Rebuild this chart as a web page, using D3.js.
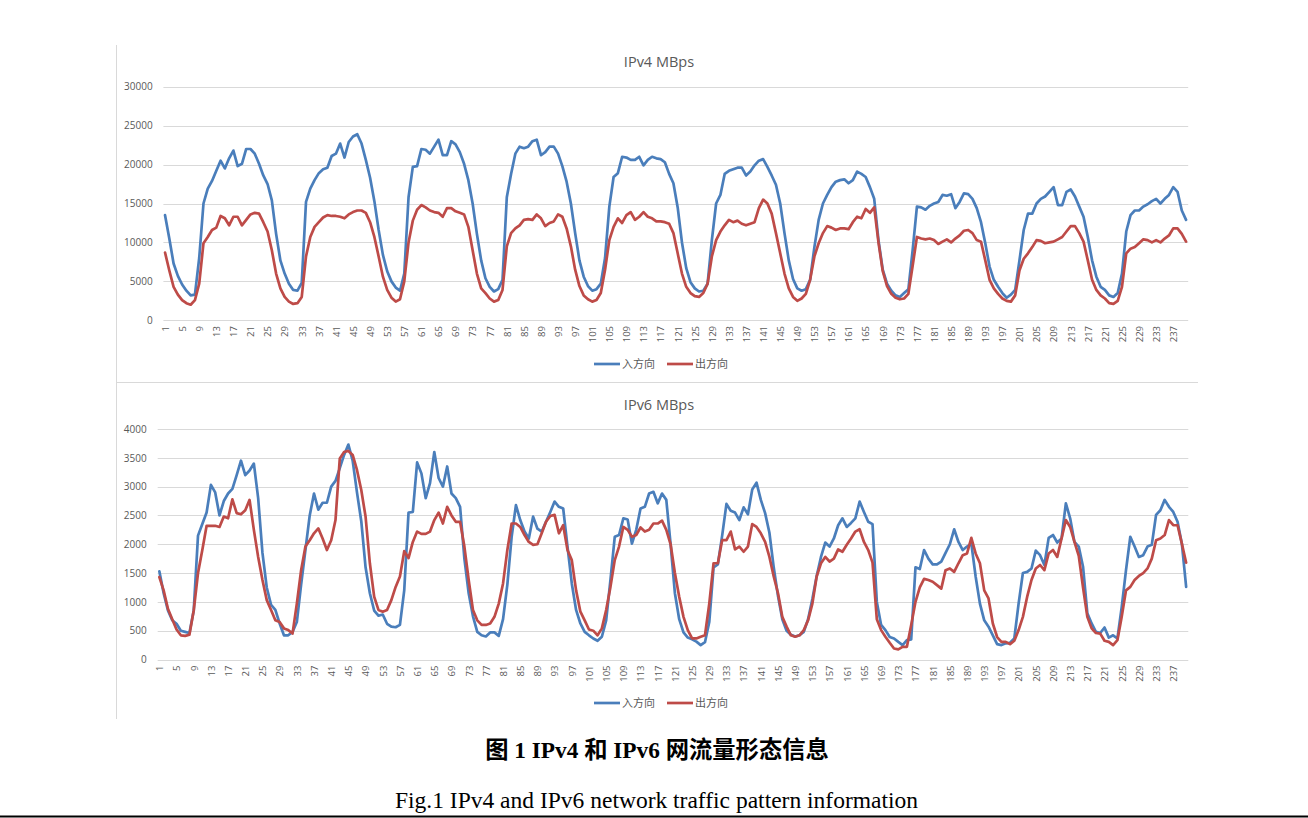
<!DOCTYPE html>
<html>
<head>
<meta charset="utf-8">
<script src="https://cdn.jsdelivr.net/npm/d3@7"></script>
<style>
  body { margin: 0; background: #ffffff; }
  svg { display: block; }
</style>
</head>
<body>
<svg id="chart" width="1308" height="818"></svg>
<script>
// ---------- data ----------
const hours = d3.range(1, 241); // categories 1..240 (hourly samples)
const xTickLabels = hours.filter(h => (h - 1) % 4 === 0);
const v4Ticks = [0, 5000, 10000, 15000, 20000, 25000, 30000];
const v6Ticks = [0, 500, 1000, 1500, 2000, 2500, 3000, 3500, 4000];
const seriesNames = ["入方向", "出方向"];

const v4In = [
  13500,10500,7300,5700,4600,3800,3200,3300,8000,15000,16900,17900,19200,20500,19500,20800,21800,19800,20100,22000,22000,21400,20100,18600,
  17500,15400,11100,7700,6000,4700,3900,3800,4800,15200,16900,18000,18900,19400,19600,21100,21400,22700,20900,22900,23600,23900,22700,20600,
  18300,15300,11600,8400,6300,5000,4200,3800,6000,15800,19700,19800,22000,21900,21400,22300,23200,21200,21200,23000,22600,21600,20100,18000,
  15000,11100,7700,5400,4300,3700,4000,5200,15800,18800,21400,22300,22100,22300,23000,23200,21200,21600,22300,22300,21400,19800,17800,15000,
  11200,7700,5600,4400,3800,4000,4700,8000,14600,18400,18900,21000,20900,20600,20600,21000,19900,20600,21000,20800,20700,20300,18800,17600,
  14500,10000,6700,4900,4100,3700,3800,4700,10300,15000,16100,18800,19200,19400,19600,19600,18600,19100,19900,20500,20700,19700,18600,17400,
  15000,11200,7700,5300,4100,3800,4000,5200,9400,12900,15000,16100,17100,17800,18000,18100,17600,18000,19100,18800,18400,17100,15600,10300,
  6500,4700,3800,3200,3000,3500,4000,9000,14600,14500,14200,14700,15000,15200,16100,16000,16200,14400,15200,16300,16200,15600,14400,12600,
  9900,6900,5200,4300,3500,2900,3300,3900,7700,11600,13700,13700,15000,15600,15900,16500,17100,14800,14800,16500,16800,15900,14600,13300,
  10700,7700,5600,4300,3900,3200,3000,3500,6000,11400,13500,14100,14100,14600,14900,15300,15600,15000,15600,16100,17100,16500,14100,12900
];
const v4Out = [
  8700,6400,4300,3300,2600,2200,2000,2600,4700,9900,10700,11600,11900,13400,13100,12200,13300,13300,12200,12900,13600,13800,13700,12600,
  11400,9000,6000,4100,3000,2400,2100,2200,3000,8200,10700,12000,12600,13200,13500,13400,13400,13300,13100,13600,13900,14100,14100,13800,
  12600,10700,8200,5600,3900,2900,2400,2700,5000,10000,12800,14200,14800,14500,14100,13900,13800,13300,14400,14400,14000,13800,13600,12000,
  9000,6000,4100,3500,2800,2400,2600,3900,9500,11200,11800,12200,12900,13000,12900,13600,13100,12100,12500,12700,13600,13300,11800,9500,
  6500,4400,3200,2700,2400,2600,3500,6500,10300,12000,13100,12500,13500,13900,12900,13300,13900,13300,13100,12700,12700,12600,12400,11200,
  8600,6000,4300,3500,3100,3000,3500,4700,8200,10300,11400,12200,12900,12600,12800,12400,12200,12400,12600,14400,15500,15000,13700,11200,
  8600,6000,4100,3000,2500,2800,3400,5200,8200,9900,11200,12100,11900,11600,11800,11800,11700,12600,13300,13100,14300,13800,14500,10000,
  6300,4400,3400,2900,2700,2800,3400,7000,10700,10500,10400,10500,10300,9800,10100,10400,10000,10500,10900,11500,11600,11200,10300,10100,
  7700,5200,4100,3400,2800,2500,2400,3200,6400,7900,8600,9400,10300,10200,9900,10000,10100,10400,10700,11400,12100,12100,11200,10100,
  7700,5200,3900,3200,2800,2200,2100,2500,4300,8600,9200,9400,9900,10400,10300,10000,10300,10000,10500,10900,11800,11800,11100,10100
];
const v6In = [
  1530,1150,850,680,620,500,480,460,850,2150,2350,2550,3030,2900,2500,2750,2880,2960,3200,3450,3200,3280,3400,2800,
  1850,1250,950,860,625,420,420,480,650,1300,1900,2500,2880,2600,2720,2720,3000,3100,3320,3550,3730,3450,2900,2400,
  1600,1150,850,760,780,620,570,560,600,1200,2550,2560,3420,3230,2800,3060,3600,3150,3000,3350,2880,2800,2650,1750,
  1150,750,480,420,400,470,470,410,700,1300,2130,2680,2420,2220,2100,2480,2270,2220,2390,2560,2740,2650,2620,1960,
  1320,860,625,480,420,365,325,395,680,1380,2130,2160,2450,2430,2010,2250,2620,2650,2880,2910,2710,2880,2770,2000,
  1150,700,470,380,350,310,250,300,650,1600,1650,2150,2700,2580,2550,2420,2640,2520,2950,3070,2770,2540,2200,1600,
  1100,700,500,430,400,420,480,700,1050,1450,1780,2030,1960,2100,2330,2450,2300,2370,2450,2740,2560,2390,2350,1000,
  600,510,390,365,305,250,335,350,1600,1570,1900,1750,1650,1650,1700,1850,2000,2260,2040,1900,1960,2010,1440,970,
  680,570,420,266,250,280,290,365,970,1500,1520,1580,1890,1810,1640,2110,2160,2030,2100,2710,2450,2040,1960,1610,
  800,625,480,460,555,380,420,365,910,1550,2130,1960,1780,1810,1960,1990,2510,2590,2770,2650,2560,2390,2010,1260
];
const v6Out = [
  1430,1200,880,700,520,420,410,430,850,1500,1900,2320,2320,2320,2300,2480,2450,2780,2540,2520,2590,2770,2250,1780,
  1380,1030,860,680,650,540,510,450,970,1550,1960,2070,2190,2275,2100,1900,2070,2420,3490,3600,3620,3550,3290,2940,
  2480,1670,1090,860,830,860,1030,1260,1440,1880,1760,2040,2220,2180,2180,2220,2420,2550,2360,2650,2500,2390,2390,1960,
  1380,860,680,600,600,625,740,970,1320,1900,2360,2360,2300,2160,2040,1990,2000,2190,2390,2490,2510,2190,2330,1900,
  1725,1200,830,680,520,500,420,540,860,1260,1725,1960,2300,2250,2130,2160,2290,2220,2250,2360,2360,2410,2250,2000,
  1500,1090,740,510,365,365,395,420,970,1670,1670,2070,2070,2220,1910,1960,1870,1960,2350,2300,2190,2040,1780,1440,
  1150,740,570,420,395,420,510,680,970,1440,1670,1780,1700,1750,1910,1870,1990,2100,2220,2260,2040,1900,1680,700,
  510,395,290,190,175,220,220,600,1000,1250,1400,1380,1350,1290,1230,1550,1580,1520,1670,1810,1840,2110,1840,1670,
  1200,1060,625,390,305,305,266,325,510,740,1090,1380,1580,1640,1550,1840,1900,1780,2100,2420,2300,2040,1800,1250,
  740,540,460,450,325,305,250,335,740,1200,1260,1380,1450,1500,1580,1750,2070,2100,2160,2420,2330,2330,2010,1680
];

// ---------- drawing ----------
const COLORS = ["#4a7ebb", "#be4b48"];
const GRID = "#d9d9d9";
const TEXT = "#595959";
const svg = d3.select("#chart");

// chart area borders (Excel chart frames)
svg.append("line").attr("x1", 116.5).attr("x2", 116.5).attr("y1", 45).attr("y2", 719)
  .attr("stroke", GRID).attr("stroke-width", 1);
svg.append("line").attr("x1", 117).attr("x2", 1198).attr("y1", 382.5).attr("y2", 382.5)
  .attr("stroke", GRID).attr("stroke-width", 1);

function drawPanel(cfg) {
  const g = svg.append("g");
  const x = d3.scalePoint().domain(hours).range(cfg.xRange).padding(0.5);
  const y = d3.scaleLinear().domain([0, cfg.yMax]).range(cfg.yRange);

  // gridlines
  g.append("g").selectAll("line").data(cfg.ticks).join("line")
    .attr("x1", cfg.xRange[0] + 0.5).attr("x2", cfg.xRange[1])
    .attr("y1", d => Math.round(y(d)) + 0.5).attr("y2", d => Math.round(y(d)) + 0.5)
    .attr("stroke", GRID).attr("stroke-width", 1);

  // y axis labels (via d3 axis, domain/ticks hidden)
  const yAxis = d3.axisLeft(y).tickValues(cfg.ticks).tickSize(0).tickPadding(0).tickFormat(d3.format("d"));
  const ya = g.append("g").attr("transform", `translate(${cfg.yLabelX},0)`).call(yAxis);
  ya.select(".domain").remove();
  ya.selectAll("text").attr("fill", TEXT).attr("font-family", "'Open Sans', sans-serif").attr("font-size", 10);

  // x axis labels
  const xAxis = d3.axisBottom(x).tickValues(xTickLabels).tickSize(0).tickPadding(0);
  const xa = g.append("g").attr("transform", `translate(0,${cfg.xLabelY})`).call(xAxis);
  xa.select(".domain").remove();
  xa.selectAll("text")
    .attr("fill", TEXT).attr("font-family", "'Open Sans', sans-serif").attr("font-size", 9.5)
    .attr("text-anchor", "end").attr("transform", "rotate(-90)")
    .attr("x", 0).attr("y", 0).attr("dy", "0.35em");

  // lines
  const line = d3.line().x((d, i) => x(hours[i])).y(d => y(d));
  cfg.series.forEach((s, k) => {
    g.append("path").datum(s).attr("d", line)
      .attr("fill", "none").attr("stroke", COLORS[k]).attr("stroke-width", 2.7)
      .attr("stroke-linejoin", "round").attr("stroke-linecap", "round");
  });

  // title
  g.append("text").attr("x", cfg.titleX).attr("y", cfg.titleY).attr("text-anchor", "middle")
    .attr("fill", TEXT).attr("font-family", "'Open Sans', sans-serif").attr("font-size", 14.5)
    .text(cfg.title);

  // legend
  const lg = g.append("g").attr("transform", `translate(0,${cfg.legendY})`);
  const legendX = [594, 667];
  seriesNames.forEach((name, k) => {
    lg.append("line").attr("x1", legendX[k]).attr("x2", legendX[k] + 26).attr("y1", 0).attr("y2", 0)
      .attr("stroke", COLORS[k]).attr("stroke-width", 2.7);
    lg.append("text").attr("x", legendX[k] + 28).attr("y", 0).attr("dy", "0.36em")
      .attr("fill", TEXT).attr("font-family", "'Noto Sans CJK SC', sans-serif").attr("font-size", 11)
      .text(name);
  });
}

drawPanel({
  series: [v4In, v4Out], yMax: 30000, ticks: v4Ticks,
  xRange: [162.9, 1188.2], yRange: [320.3, 86.7],
  yLabelX: 152.7, xLabelY: 326, title: "IPv4 MBps", titleX: 659, titleY: 66.5, legendY: 364
});
drawPanel({
  series: [v6In, v6Out], yMax: 4000, ticks: v6Ticks,
  xRange: [157.2, 1188.3], yRange: [659.5, 429],
  yLabelX: 146.7, xLabelY: 665.5, title: "IPv6 MBps", titleX: 659, titleY: 410, legendY: 703
});

// captions
svg.append("text").attr("x", 657).attr("y", 758).attr("text-anchor", "middle")
  .attr("font-family", "'Liberation Serif', 'Noto Sans CJK SC', serif").attr("font-weight", "bold")
  .attr("font-size", 23.3).attr("fill", "#000").text("图 1 IPv4 和 IPv6 网流量形态信息");
svg.append("text").attr("x", 656.5).attr("y", 808).attr("text-anchor", "middle")
  .attr("font-family", "'Liberation Serif', serif")
  .attr("font-size", 23.5).attr("fill", "#000").text("Fig.1 IPv4 and IPv6 network traffic pattern information");
svg.append("line").attr("x1", 0).attr("x2", 1308).attr("y1", 816.5).attr("y2", 816.5)
  .attr("stroke", "#000").attr("stroke-width", 2);
</script>
</body>
</html>
